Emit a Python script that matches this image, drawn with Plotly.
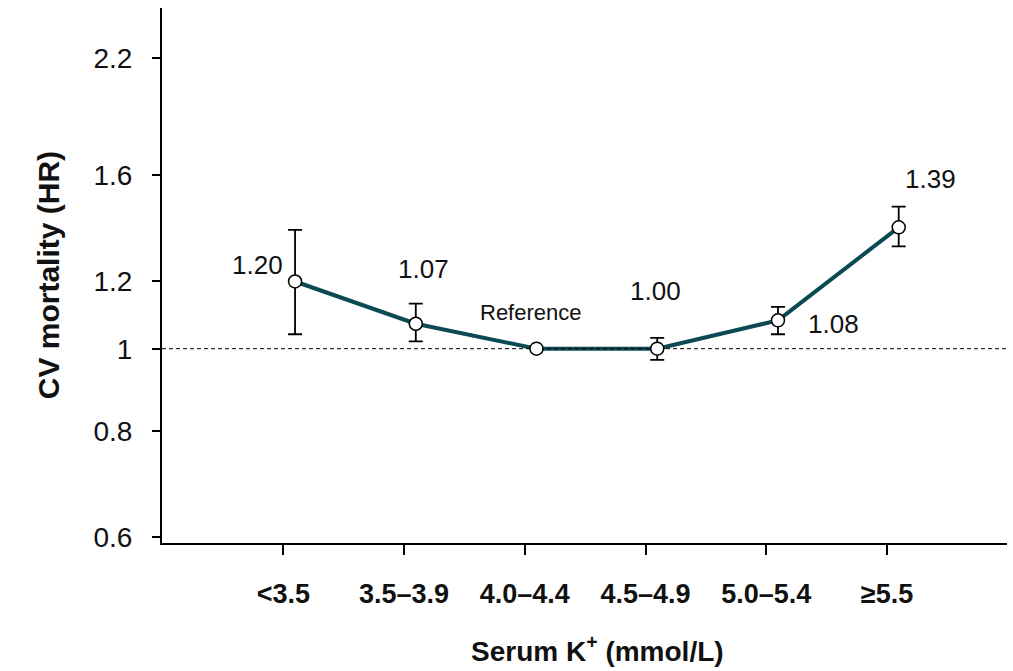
import math
import plotly.graph_objects as go

# Serum potassium categories and cardiovascular mortality hazard ratios
categories = ["<3.5", "3.5–3.9", "4.0–4.4", "4.5–4.9", "5.0–5.4", "≥5.5"]
hr = [1.20, 1.07, 1.00, 1.00, 1.08, 1.39]
ci_low = [1.04, 1.02, None, 0.97, 1.04, 1.32]
ci_high = [1.38, 1.13, None, 1.03, 1.12, 1.47]
value_labels = ["1.20", "1.07", "Reference", "1.00", "1.08", "1.39"]

y_tick_vals = [0.6, 0.8, 1, 1.2, 1.6, 2.2]
y_tick_text = ["0.6", "0.8", "1", "1.2", "1.6", "2.2"]

# Points sit slightly to the right of each category tick
POINT_OFFSET = 0.097
X_RANGE = [-1.005, 5.994]
Y_RANGE = [0.5903, 2.52]

tick_pos = list(range(len(categories)))
pt_x = [i + POINT_OFFSET for i in tick_pos]

err_plus = [(u - v) if u is not None else 0 for u, v in zip(ci_high, hr)]
err_minus = [(v - l) if l is not None else 0 for l, v in zip(ci_low, hr)]

LINE_COLOR = "#0b4a52"
FONT = "Liberation Sans, Arial, sans-serif"
TEXT_COLOR = "#111111"

fig = go.Figure()

# Connecting line
fig.add_trace(go.Scatter(
    x=pt_x, y=hr, mode="lines",
    line=dict(color=LINE_COLOR, width=4),
    hoverinfo="skip", showlegend=False,
))

# Dashed reference line at HR = 1
fig.add_trace(go.Scatter(
    x=X_RANGE, y=[1, 1], mode="lines",
    line=dict(color="black", width=1, dash="4px,3px"),
    hoverinfo="skip", showlegend=False,
))

# Point estimates with 95% CI
fig.add_trace(go.Scatter(
    x=pt_x, y=hr, mode="markers",
    marker=dict(symbol="circle", size=13, color="white",
                line=dict(color="black", width=1.5)),
    error_y=dict(type="data", symmetric=False, array=err_plus,
                 arrayminus=err_minus, color="black", thickness=1.8, width=7),
    showlegend=False,
))

# Value labels (pixel offsets from each point)
label_shift = [(-38, 16), (8, 55), (-6, 36), (-2, 58), (56, -4), (32, 48)]
for x, v, txt, (dx, dy) in zip(pt_x, hr, value_labels, label_shift):
    size = 22 if txt == "Reference" else 26
    fig.add_annotation(
        x=x, y=math.log10(v), text=txt, showarrow=False,
        xshift=dx, yshift=dy, xanchor="center", yanchor="middle",
        font=dict(family=FONT, size=size, color=TEXT_COLOR),
    )

# Axis titles
fig.add_annotation(
    xref="paper", yref="paper", x=-0.134, y=0.5, text="<b>CV mortality (HR)</b>",
    textangle=-90, showarrow=False, xanchor="center", yanchor="middle",
    font=dict(family=FONT, size=30, color=TEXT_COLOR),
)
fig.add_annotation(
    xref="paper", yref="paper", x=0.515, y=-0.198,
    text="<b>Serum K<sup>+</sup> (mmol/L)</b>",
    showarrow=False, xanchor="center", yanchor="middle",
    font=dict(family=FONT, size=28, color=TEXT_COLOR),
)

fig.update_layout(
    width=1013, height=671,
    margin=dict(l=162, r=6, t=8, b=128),
    paper_bgcolor="white", plot_bgcolor="white",
    font=dict(family=FONT, color=TEXT_COLOR),
    xaxis=dict(
        range=X_RANGE, tickvals=tick_pos, ticktext=categories,
        showgrid=False, zeroline=False,
        showline=True, linecolor="black", linewidth=2,
        ticks="outside", ticklen=10, tickwidth=1.5, tickcolor="black",
        tickfont=dict(family=FONT, size=27, color=TEXT_COLOR, weight="bold"),
        ticklabelstandoff=16,
    ),
    yaxis=dict(
        type="log", range=[math.log10(Y_RANGE[0]), math.log10(Y_RANGE[1])],
        tickvals=y_tick_vals, ticktext=y_tick_text,
        showgrid=False, zeroline=False,
        showline=True, linecolor="black", linewidth=2,
        ticks="outside", ticklen=8, tickwidth=1.5, tickcolor="black",
        tickfont=dict(family=FONT, size=28, color=TEXT_COLOR),
        ticklabelstandoff=14,
    ),
)

fig.write_html("out.html")
